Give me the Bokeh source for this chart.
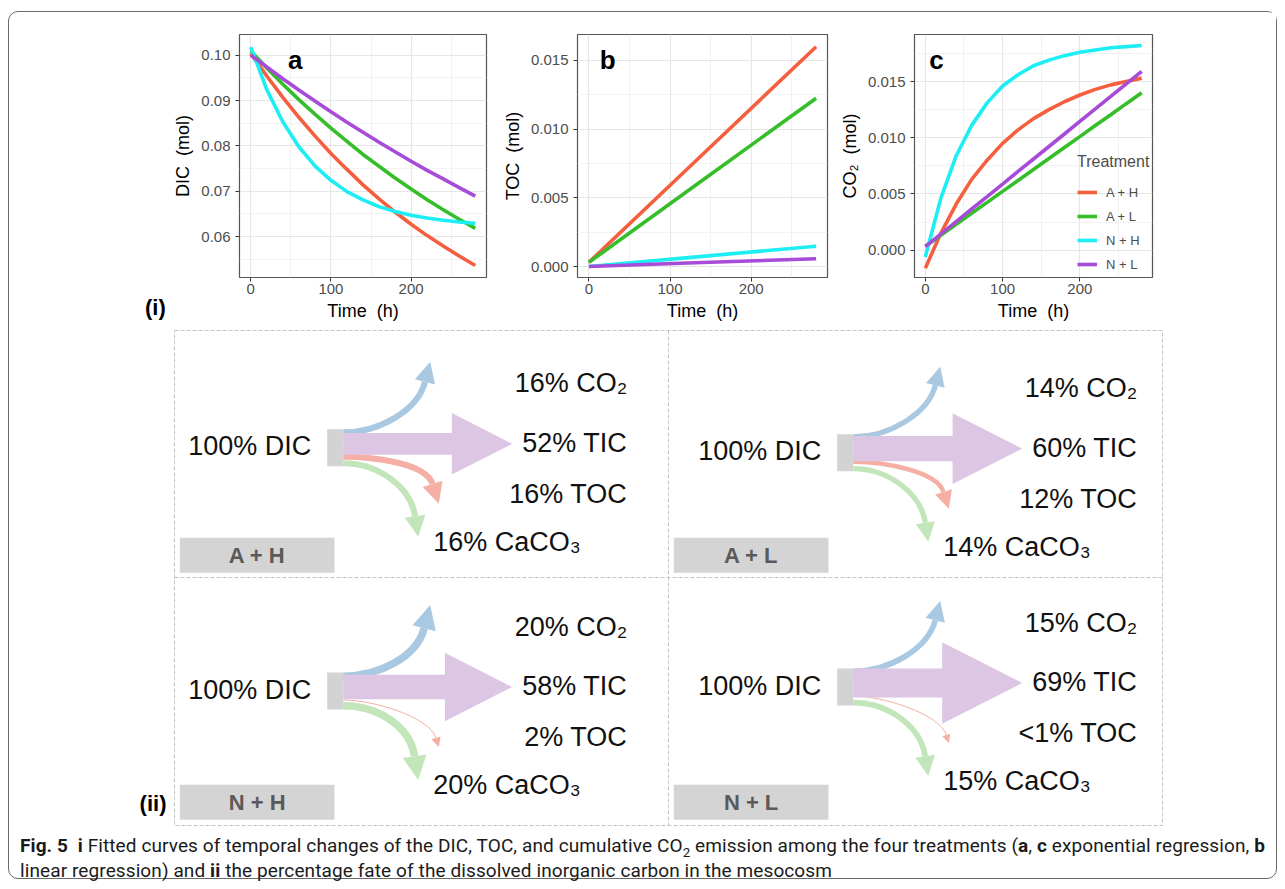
import math
from bokeh.plotting import figure
from bokeh.models import (Range1d, FixedTicker, NumeralTickFormatter, Legend,
                          LegendItem, Div)
from bokeh.layouts import column, row
from bokeh.core.properties import value
from bokeh.embed import file_html
from bokeh.resources import INLINE

FONT = "Liberation Sans"

# ---------------- data ----------------
treatments = ["A + H", "A + L", "N + H", "N + L"]
colors = ["#F4603F", "#35BE2A", "#1CEEF3", "#A64CD8"]

time = [0, 20, 40, 60, 80, 100, 120, 140, 160, 180, 200, 220, 240, 260, 280]

dic_AH = [0.1004, 0.0954, 0.0907, 0.0863, 0.0822, 0.0783, 0.0748, 0.0714,
          0.0683, 0.0654, 0.0627, 0.0602, 0.0579, 0.0557, 0.0536]
dic_AL = [0.1009, 0.0972, 0.0936, 0.0902, 0.0870, 0.0839, 0.0810, 0.0781,
          0.0755, 0.0729, 0.0705, 0.0681, 0.0659, 0.0638, 0.0618]
dic_NH = [0.1018, 0.0924, 0.0853, 0.0798, 0.0756, 0.0724, 0.0699, 0.0681,
          0.0666, 0.0655, 0.0647, 0.0641, 0.0636, 0.0632, 0.0629]
dic_NL = [0.1000, 0.0974, 0.0948, 0.0923, 0.0899, 0.0875, 0.0852, 0.0830,
          0.0808, 0.0787, 0.0766, 0.0746, 0.0727, 0.0708, 0.0689]

toc_time = [0, 140, 280]
toc_AH = [0.0003, 0.00815, 0.0160]
toc_AL = [0.0003, 0.00628, 0.01225]
toc_NH = [0.0000, 0.00074, 0.00148]
toc_NL = [0.0000, 0.00029, 0.00057]

co2_AH = [-0.0016, 0.0015, 0.0041, 0.0063, 0.0080, 0.0095, 0.0107, 0.0117,
          0.0125, 0.0132, 0.0138, 0.0143, 0.0147, 0.0150, 0.0153]
co2_AL = [0.00035, 0.00133, 0.0023, 0.00328, 0.00425, 0.00523, 0.0062, 0.00718,
          0.00815, 0.00913, 0.0101, 0.01108, 0.01205, 0.01303, 0.0140]
co2_NH = [-0.0006, 0.0046, 0.0084, 0.0111, 0.0131, 0.0146, 0.0156, 0.0164,
          0.0169, 0.0173, 0.0176, 0.0178, 0.0180, 0.0181, 0.0182]
co2_NL = [0.00032, 0.00143, 0.00254, 0.00366, 0.00477, 0.00588, 0.0070, 0.00811,
          0.00922, 0.01033, 0.01145, 0.01256, 0.01367, 0.01479, 0.0159]

x_ticks = [0, 100, 200]
x_minor = [-50, 50, 150, 250]

# percentage fate of DIC
co2_pct = [16, 14, 20, 15]
tic_pct = [52, 60, 58, 69]
toc_pct = [16, 12, 2, 0.5]
toc_lbl = ["16%", "12%", "2%", "<1%"]
caco3_pct = [16, 14, 20, 15]


# ---------------- top panels ----------------
def panel(width, mbl, mbr, yr, yticks, yminor, yfmt, ylabel):
    p = figure(width=width, height=313, x_range=Range1d(-14, 294),
               y_range=Range1d(*yr), output_backend="svg",
               toolbar_location=None, min_border_left=mbl,
               min_border_right=mbr, min_border_top=22, min_border_bottom=48)
    p.outline_line_color = "#555555"
    p.outline_line_width = 1.2
    xt = FixedTicker(ticks=x_ticks, minor_ticks=x_minor)
    yt = FixedTicker(ticks=yticks, minor_ticks=yminor)
    p.xaxis.ticker = xt
    p.yaxis.ticker = yt
    p.xgrid.ticker = xt
    p.ygrid.ticker = yt
    p.yaxis.formatter = NumeralTickFormatter(format=yfmt)
    p.xaxis.axis_label = "Time\u00a0\u00a0(h)"
    p.yaxis.axis_label = ylabel
    for ax in p.axis:
        ax.axis_line_color = None
        ax.major_tick_line_color = "#333333"
        ax.major_tick_out = 4
        ax.major_tick_in = 0
        ax.minor_tick_line_color = None
        ax.major_label_text_font = FONT
        ax.major_label_text_font_size = "15px"
        ax.major_label_text_color = "#4D4D4D"
        ax.axis_label_text_font = FONT
        ax.axis_label_text_font_size = "18px"
        ax.axis_label_text_font_style = "normal"
        ax.axis_label_text_color = "black"
    p.xaxis.major_label_standoff = 2
    p.xaxis.axis_label_standoff = 4
    p.yaxis.major_label_standoff = 5
    p.yaxis.axis_label_standoff = 5
    for g in (p.xgrid, p.ygrid):
        g.grid_line_color = "#E6E6E6"
        g.grid_line_width = 1.2
        g.minor_grid_line_color = "#EFEFEF"
        g.minor_grid_line_width = 0.8
    return p


fa = panel(326, 67, 10, (0.05096, 0.10456), [0.06, 0.07, 0.08, 0.09, 0.10],
           [0.055, 0.065, 0.075, 0.085, 0.095], "0.00", "DIC\u00a0\u00a0(mol)")
fb = panel(340, 81, 9, (-0.0008, 0.01689), [0.0, 0.005, 0.010, 0.015],
           [0.0025, 0.0075, 0.0125], "0.000", "TOC\u00a0\u00a0(mol)")
fc = panel(440, 75, 124, (-0.00243, 0.01918), [0.0, 0.005, 0.010, 0.015],
           [-0.0025, 0.0025, 0.0075, 0.0125, 0.0175], "0.000",
           "CO\u2082\u00a0\u00a0(mol)")

for ys, c in zip([dic_AH, dic_AL, dic_NH, dic_NL], colors):
    fa.line(time, ys, line_color=c, line_width=3.6)
for ys, c in zip([toc_AH, toc_AL, toc_NH, toc_NL], colors):
    fb.line(toc_time, ys, line_color=c, line_width=3.6)
rends = []
for ys, c in zip([co2_AH, co2_AL, co2_NH, co2_NL], colors):
    rends.append(fc.line(time, ys, line_color=c, line_width=3.6))

for p, x, y, t in [(fa, 46.6, 0.09893, "a"), (fb, 13.5, 0.01503, "b"),
                   (fc, 5.2, 0.01691, "c")]:
    p.text(x=[x], y=[y], text=[t], text_font=value(FONT),
           text_font_size="26px", text_font_style="bold",
           text_align="left", text_baseline="alphabetic", text_color="black")

leg = Legend(items=[LegendItem(label=t, renderers=[r])
                    for t, r in zip(treatments, rends)],
             location=(160, 0), title="Treatment")
leg.title_text_font = FONT
leg.title_text_font_size = "16px"
leg.title_text_font_style = "normal"
leg.title_text_color = "#4D4D4D"
leg.title_standoff = 11
leg.label_text_font = FONT
leg.label_text_font_size = "13px"
leg.label_text_color = "#4D4D4D"
leg.glyph_width = 20
leg.glyph_height = 20
leg.label_height = 20
leg.spacing = 4
leg.label_standoff = 9
leg.padding = 3
leg.margin = 0
leg.background_fill_alpha = 0
leg.border_line_alpha = 0
fc.add_layout(leg)

lbl_i = Div(text=('<div style="padding:284px 0 0 136px; font-family:\'Liberation Sans\';'
                  ' font-weight:bold; font-size:22px; line-height:24px;'
                  ' color:#000">(i)</div>'),
            width=161, height=313, margin=0)

# ---------------- bottom: percentage fate diagrams ----------------
fd = figure(width=1267, height=507, x_range=Range1d(9, 1276),
            y_range=Range1d(832, 325), output_backend="svg",
            toolbar_location=None, x_axis_location=None, y_axis_location=None,
            min_border=0)
fd.outline_line_color = None
fd.xgrid.visible = False
fd.ygrid.visible = False

# dashed 2x2 frame
GX0, GX1, GX2 = 174, 668, 1162
GY0, GY1, GY2 = 330, 577, 825
fd.multi_line(xs=[[GX0, GX2, GX2, GX0, GX0], [GX1, GX1], [GX0, GX2]],
              ys=[[GY0, GY0, GY2, GY2, GY0], [GY0, GY2], [GY1, GY1]],
              line_color="#C4C4C4", line_width=1, line_dash="4 2")

cell_x = [GX0, GX1, GX0, GX1]
cell_y = [GY0, GY0, GY1, GY1]
anchor_dx = [168.7, 184.7, 168.7, 184.7]
anchor_dy = [117.3, 122.2, 113.5, 109.5]

flows = [
    dict(pcts=co2_pct, tip=(87, -86), d=(0.25, -0.968), y0="top", c1=35,
         k=30, color="#A9C8E2"),
    dict(pcts=toc_pct, tip=(95.6, 56), d=(0.3, 0.954), y0="mid", c1=30,
         k=22, color="#F5AFA5"),
    dict(pcts=caco3_pct, tip=(75, 89), d=(0.15, 0.989), y0="bot", c1=35,
         k=30, color="#C2E5B9"),
]

for f in flows:
    bz = dict(x0=[], y0=[], x1=[], y1=[], cx0=[], cy0=[], cx1=[], cy1=[], w=[])
    hx, hy = [], []
    for i in range(4):
        sx = cell_x[i] + anchor_dx[i]
        sy = cell_y[i] + anchor_dy[i]
        pct = f["pcts"][i]
        w = max(1.0, 0.38 * pct)
        hs = 8 + 0.8 * pct
        dx, dy = f["d"]
        n = math.hypot(dx, dy)
        dx, dy = dx / n, dy / n
        tx, ty = sx + f["tip"][0], sy + f["tip"][1]
        bx, by = tx - hs * dx, ty - hs * dy
        px, py = -dy, dx
        hx.append([bx + hs / 2 * px, tx, bx - hs / 2 * px])
        hy.append([by + hs / 2 * py, ty, by - hs / 2 * py])
        if f["y0"] == "top":
            y0 = sy - 18.5 + w / 2
        elif f["y0"] == "bot":
            y0 = sy + 18.5 - w / 2
        else:
            y0 = sy + 9
        bz["x0"].append(sx); bz["y0"].append(y0)
        bz["cx0"].append(sx + f["c1"]); bz["cy0"].append(y0)
        bz["cx1"].append(bx - f["k"] * dx); bz["cy1"].append(by - f["k"] * dy)
        bz["x1"].append(bx); bz["y1"].append(by)
        bz["w"].append(w)
    fd.bezier(x0="x0", y0="y0", x1="x1", y1="y1", cx0="cx0", cy0="cy0",
              cx1="cx1", cy1="cy1", line_width="w", line_color=f["color"],
              source=bz)
    fd.patches(hx, hy, fill_color=f["color"], line_color=None)

# big TIC arrow
px_l, py_l = [], []
for i in range(4):
    sx = cell_x[i] + anchor_dx[i]
    sy = cell_y[i] + anchor_dy[i]
    pct = tic_pct[i]
    yc = sy - 4
    tx = sx + 169
    bx = tx - 1.16 * pct
    hw = 0.21 * pct
    hh = 0.59 * pct
    px_l.append([sx, bx, bx, tx, bx, bx, sx])
    py_l.append([yc - hw, yc - hw, yc - hh, yc, yc + hh, yc + hw, yc + hw])
fd.patches(px_l, py_l, fill_color="#DCC6E3", line_color=None)

# source boxes
src_x = [cell_x[i] + anchor_dx[i] for i in range(4)]
src_y = [cell_y[i] + anchor_dy[i] for i in range(4)]
fd.quad(left=[x - 16 for x in src_x], right=src_x,
        top=[y - 18.5 for y in src_y], bottom=[y + 18.5 for y in src_y],
        fill_color="#D3D3D3", line_color=None)

# treatment tags
fd.quad(left=[x + 5.3 for x in cell_x], right=[x + 160 for x in cell_x],
        top=[y + 207.3 for y in cell_y], bottom=[y + 242.3 for y in cell_y],
        fill_color="#D4D4D4", line_color=None)
fd.text(x=[x + 82.6 for x in cell_x], y=[y + 225 for y in cell_y],
        text=treatments, text_font=value(FONT), text_font_size="22px",
        text_font_style="bold", text_color="#5A5A5A", text_align="center",
        text_baseline="middle")

TXT = dict(text_font=value(FONT), text_font_size="27px", text_color="#111111",
           text_baseline="middle")
fd.text(x=[x - 155 for x in src_x], y=[y - 1.5 for y in src_y],
        text=["100% DIC"] * 4, text_align="left", **TXT)
fd.text(x=[x + 284 for x in src_x], y=[y - 64.5 for y in src_y],
        text=[f"{v}% CO\u2082" for v in co2_pct], text_align="right", **TXT)
fd.text(x=[x + 284 for x in src_x], y=[y - 5 for y in src_y],
        text=[f"{v}% TIC" for v in tic_pct], text_align="right", **TXT)
fd.text(x=[x + 284 for x in src_x], y=[y + 46.3 for y in src_y],
        text=[f"{v} TOC" for v in toc_lbl], text_align="right", **TXT)
fd.text(x=[x + 90 for x in src_x], y=[y + 94 for y in src_y],
        text=[f"{v}% CaCO\u2083" for v in caco3_pct], text_align="left", **TXT)

fd.text(x=[166], y=[803], text=["(ii)"], text_font=value(FONT),
        text_font_size="22px", text_font_style="bold", text_color="black",
        text_align="right", text_baseline="middle")

# ---------------- caption ----------------
cap_html = ('<div style="padding:1px 0 0 11px; line-height:25px; font-size:19px;'
            ' font-family:Roboto; letter-spacing:0.1px; color:#1a1a1a;'
            ' white-space:nowrap">'
            "<b>Fig.&nbsp;5</b>&nbsp;&nbsp;<b>i</b> Fitted curves of temporal "
            "changes of the DIC, TOC, and cumulative CO"
            '<sub style="line-height:0; font-size:0.7em">2</sub> emission '
            "among the four treatments (<b>a</b>, <b>c</b> exponential "
            "regression, <b>b</b><br>linear regression) and <b>ii</b> the "
            "percentage fate of the dissolved inorganic carbon in the mesocosm"
            "</div>")
cap = Div(text=cap_html, width=1267, height=46, margin=0)

layout = column(row(lbl_i, fa, fb, fc), fd, cap,
                styles={"border": "1px solid #6a6a6a", "border-radius": "10px",
                        "margin": "11px 0 0 8px"})

open("out.html", "w").write(file_html(layout, INLINE))
